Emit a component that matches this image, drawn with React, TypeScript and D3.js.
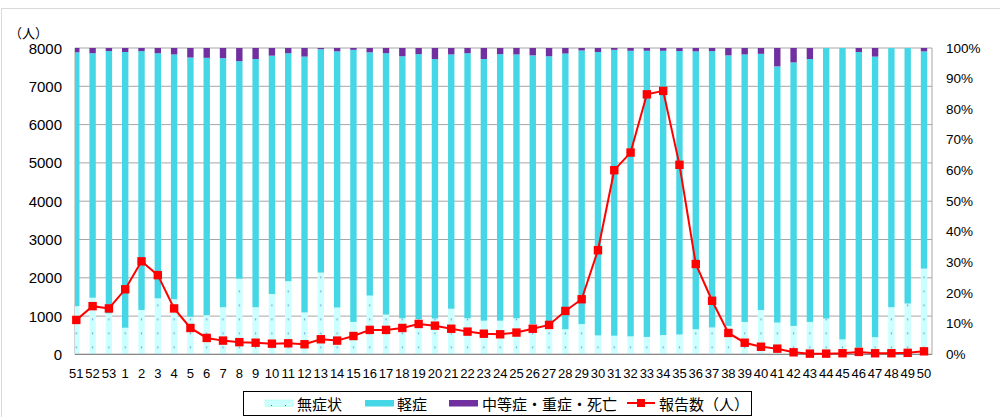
import * as d3 from 'd3';

// 週（前年51週〜50週）
const weeks = ['51', '52', '53', ...d3.range(1, 51).map(String)];

// 報告数（人）
const reports = [
  900, 1260, 1200, 1700, 2430, 2070, 1200, 690, 430, 360, 320, 305, 280, 290, 265, 395, 360,
  480, 640, 640, 690, 795, 750, 670, 595, 540, 525, 570, 670, 770, 1135, 1440, 2720, 4810,
  5270, 6790, 6880, 4950, 2360, 1400, 560, 305, 200, 150, 55, 20, 20, 30, 65, 30, 30, 40, 80,
];

// 無症状の割合（%）
const asymptomatic = [
  15.8, 18.5, 13.4, 8.7, 14.5, 18.3, 18.0, 12.3, 12.8, 15.4, 24.7, 15.4, 19.7, 23.9, 13.7,
  26.7, 15.3, 10.6, 19.2, 13.0, 11.8, 11.5, 11.7, 14.9, 11.8, 11.0, 11.0, 11.8, 9.9, 8.5, 8.2,
  9.9, 6.2, 6.1, 5.9, 5.7, 6.3, 6.5, 8.2, 8.8, 9.3, 10.6, 14.5, 10.4, 9.3, 10.6, 11.7, 4.9,
  2.2, 5.6, 15.4, 16.6, 28.0,
];

// 中等症・重症・死亡の割合（%）
const severe = [
  1.4, 1.7, 1.0, 1.3, 1.0, 1.7, 2.1, 3.1, 3.2, 3.3, 4.3, 3.6, 2.5, 1.7, 2.8, 0.4, 1.1, 0.6,
  1.4, 1.7, 2.7, 2.0, 3.6, 2.1, 1.7, 3.6, 2.0, 2.1, 2.4, 2.7, 1.8, 0.8, 1.3, 0.6, 0.9, 0.9,
  0.9, 1.0, 1.1, 1.0, 2.4, 2.1, 1.9, 6.0, 4.7, 3.6, 0, 0, 1.3, 2.8, 0, 0, 1.1,
];

const leftTicks = d3.range(0, 8001, 1000);
const rightTicks = d3.range(0, 101, 10);

const seriesNames = ['無症状', '軽症', '中等症・重症・死亡'];
const lineName = '報告数（人）';

const COLORS = { asym: '#ccffff', mild: '#46d7e6', severe: '#7030a0', line: '#ff0000' };
const NUM_FONT = '"Liberation Sans", Arial, sans-serif';
const JP_FONT = '"Noto Sans CJK JP", "Noto Sans", sans-serif';

export default function App() {
  const W = 1000;
  const H = 417;
  const left = 75;
  const right = 932;
  const top = 48;
  const bottom = 354.4;

  const x = d3.scalePoint<string>().domain(weeks).range([76.3, 924]);
  const yL = d3.scaleLinear().domain([0, 8000]).range([bottom, top]);
  const yR = d3.scaleLinear().domain([0, 100]).range([bottom, top]);
  const step = x.step();
  const barW = 6.4;

  const rows = weeks.map((w, i) => {
    const a = asymptomatic[i];
    const s = severe[i];
    return { w, a, m: 100 - a - s, s, r: reports[i] };
  });

  const line = d3
    .line<(typeof rows)[0]>()
    .x(d => x(d.w)!)
    .y(d => yL(d.r));

  return (
    <svg
      width={W}
      height={H}
      style={{ position: 'absolute', left: 0, top: 0, display: 'block', background: '#fff' }}
    >
      <defs>
        <pattern
          id="dots"
          patternUnits="userSpaceOnUse"
          x={x(weeks[0])! - step / 2}
          y={bottom}
          width={step}
          height={14}
        >
          <rect width={step} height={14} fill={COLORS.asym} />
          <rect x={step / 2 - 0.6} y={6.4} width={1.2} height={1.2} fill="#4a72b0" />
        </pattern>
        <clipPath id="plot">
          <rect x={left} y={top} width={right - left} height={bottom - top} />
        </clipPath>
      </defs>

      <rect x={1.5} y={8.5} width={1010} height={420} fill="none" stroke="#d9d9d9" />

      {/* grid */}
      {leftTicks.map(t => (
        <line key={t} x1={left} x2={right} y1={yL(t)} y2={yL(t)} stroke="#a6a6a6" strokeWidth={1} />
      ))}
      <line x1={right} x2={right} y1={top} y2={bottom} stroke="#a6a6a6" />
      <line x1={left} x2={left} y1={top} y2={bottom} stroke="#a6a6a6" />

      {/* stacked 100% bars */}
      <g clipPath="url(#plot)">
        {rows.map(d => {
          const cx = x(d.w)!;
          return (
            <g key={d.w}>
              <rect x={cx - barW / 2} y={yR(d.a)} width={barW} height={bottom - yR(d.a)} fill="url(#dots)" />
              <rect x={cx - barW / 2} y={yR(d.a + d.m)} width={barW} height={yR(d.a) - yR(d.a + d.m)} fill={COLORS.mild} />
              <rect x={cx - barW / 2} y={yR(100)} width={barW} height={yR(d.a + d.m) - yR(100)} fill={COLORS.severe} />
            </g>
          );
        })}
      </g>

      <line x1={left} x2={right} y1={bottom} y2={bottom} stroke="#898989" strokeWidth={1.2} />

      {/* report line */}
      <path d={line(rows)!} fill="none" stroke={COLORS.line} strokeWidth={2} />
      {rows.map(d => (
        <rect key={d.w} x={x(d.w)! - 4.2} y={yL(d.r) - 4.2} width={8.4} height={8.4} fill={COLORS.line} />
      ))}

      {/* axes labels */}
      <text x={9} y={32} fontFamily={JP_FONT} fontSize={13} dominantBaseline="central">（人）</text>
      {leftTicks.map(t => (
        <text key={t} x={62} y={yL(t)} textAnchor="end" dominantBaseline="central" fontFamily={NUM_FONT} fontSize={15}>
          {t}
        </text>
      ))}
      {rightTicks.map(t => (
        <text key={t} x={946} y={yR(t)} dominantBaseline="central" fontFamily={NUM_FONT} fontSize={13.5}>
          {t}%
        </text>
      ))}
      {weeks.map(w => (
        <text key={w} x={x(w)!} y={373} textAnchor="middle" dominantBaseline="central" fontFamily={NUM_FONT} fontSize={13}>
          {w}
        </text>
      ))}

      {/* legend */}
      <g fontFamily={JP_FONT} fontSize={15}>
        <rect x={243.5} y={391.5} width={508} height={24} fill="#fff" stroke="#000" />
        <rect x={265} y={400} width={28} height={6.5} fill={COLORS.asym} stroke="#9fd" strokeWidth={0.5} />
        <rect x={271} y={405} width={1} height={1} fill="#4a72b0" />
        <rect x={285} y={405} width={1} height={1} fill="#4a72b0" />
        <text x={297} y={403} dominantBaseline="central">{seriesNames[0]}</text>
        <rect x={365} y={400} width={29} height={6.5} fill={COLORS.mild} />
        <text x={397} y={403} dominantBaseline="central">{seriesNames[1]}</text>
        <rect x={449} y={400} width={29} height={6.5} fill={COLORS.severe} />
        <text x={482} y={403} dominantBaseline="central">{seriesNames[2]}</text>
        <line x1={627} x2={655} y1={403} y2={403} stroke={COLORS.line} strokeWidth={2} />
        <rect x={637} y={399} width={8} height={8} fill={COLORS.line} />
        <text x={659} y={403} dominantBaseline="central">{lineName}</text>
      </g>
    </svg>
  );
}
